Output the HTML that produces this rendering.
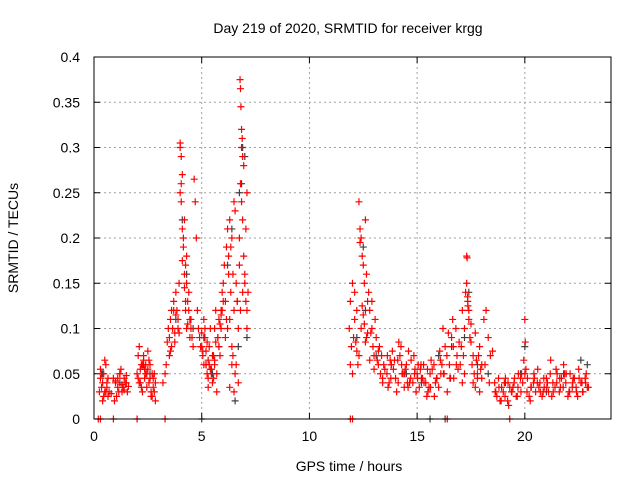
<!DOCTYPE html>
<html><head><meta charset="utf-8"><style>
body{margin:0;background:#fff;}
svg text{font-family:"Liberation Sans",sans-serif;font-size:14px;fill:#000;}
</style></head><body>
<svg id="chart" width="640" height="480" viewBox="0 0 640 480">
<text x="348" y="33" text-anchor="middle">Day 219 of 2020, SRMTID for receiver krgg</text>
<text transform="translate(18,238) rotate(-90)" text-anchor="middle">SRMTID / TECUs</text>
<text x="349" y="471" text-anchor="middle">GPS time / hours</text>
<g id="grid"></g>
<g id="ticks"></g>
<g id="gray"></g>
<g id="red"></g>
<rect x="94" y="57" width="517" height="362" fill="none" stroke="#000" stroke-width="1"/>
</svg>
<script>
const xTicks=[0,5,10,15,20];
const yTicks=[0,0.05,0.1,0.15,0.2,0.25,0.3,0.35,0.4];
const yTickLabels=["0","0.05","0.1","0.15","0.2","0.25","0.3","0.35","0.4"];
const redHours=[0.25,0.3,0.35,0.4,0.45,0.5,0.55,0.6,0.65,0.7,0.3,0.4,0.5,0.6,0.35,0.45,0.55,0.65,0.8,0.9,1.0,1.1,1.2,1.3,1.4,1.5,1.05,1.15,1.25,1.35,1.45,1.55,1.1,1.2,1.3,1.4,0.95,1.0,1.5,1.6,
2.0,2.05,2.1,2.15,2.2,2.25,2.3,2.35,2.4,2.45,2.5,2.55,2.6,2.65,2.7,2.75,2.8,2.85,2.1,2.2,2.3,2.4,2.5,2.6,2.7,2.8,2.15,2.35,2.55,2.75,2.05,2.45,2.65,2.25,2.85,
3.2,3.3,3.35,3.4,3.45,3.5,3.55,3.6,3.65,3.7,3.75,3.8,3.85,3.9,3.95,4.0,4.05,4.1,4.15,4.2,4.25,4.3,4.35,4.4,4.45,4.5,3.5,3.6,3.7,3.8,3.9,4.0,4.1,4.2,4.3,4.4,3.55,3.75,3.95,4.05,4.15,4.25,4.35,4.45,4.0,4.05,4.1,4.2,4.25,4.3,4.5,4.55,4.6,4.65,4.7,4.75,4.8,4.85,4.9,4.95,
5.0,5.05,5.1,5.15,5.2,5.25,5.3,5.35,5.4,5.45,5.5,5.55,5.6,5.65,5.7,5.75,5.8,5.85,5.9,5.95,6.0,5.0,5.1,5.2,5.3,5.4,5.5,5.6,5.7,5.8,5.9,5.05,5.15,5.25,5.35,5.45,5.55,5.65,5.75,5.85,5.95,5.3,5.6,5.9,5.45,
6.0,6.05,6.1,6.15,6.2,6.25,6.3,6.35,6.4,6.45,6.5,6.55,6.6,6.65,6.7,6.75,6.8,6.85,6.9,6.95,7.0,7.05,7.1,7.15,6.1,6.2,6.3,6.4,6.5,6.6,6.7,6.8,6.9,7.0,7.1,6.15,6.25,6.35,6.45,6.55,6.65,6.75,6.85,6.95,7.05,6.78,6.8,6.82,6.85,6.88,6.9,6.5,6.4,6.3,7.1,
11.85,11.9,11.95,12.0,12.05,12.1,12.15,12.2,12.25,12.3,12.35,12.4,12.45,12.5,12.55,12.6,12.65,12.7,12.75,12.8,12.85,12.9,12.95,13.0,13.05,13.1,13.15,13.2,13.25,13.3,13.35,13.4,13.45,13.5,11.9,12.0,12.1,12.2,12.3,12.4,12.5,12.6,12.7,12.8,12.9,13.0,13.2,13.4,12.35,12.45,12.55,12.65,
13.6,13.7,13.8,13.9,14.0,14.1,14.2,14.3,14.4,14.5,14.6,14.7,14.8,14.9,15.0,15.1,15.2,15.3,15.4,15.5,15.6,15.7,15.8,15.9,16.0,16.1,16.2,16.3,16.4,16.5,16.6,16.7,16.8,16.9,13.65,13.85,14.05,14.25,14.45,14.65,14.85,15.05,15.25,15.45,15.65,15.85,16.05,16.25,16.45,16.65,16.85,14.15,14.55,15.15,15.55,16.15,16.55,13.75,14.35,14.95,
13.62,13.78,13.95,14.12,14.28,14.42,14.58,14.72,14.88,15.02,15.18,15.32,15.48,15.62,15.78,15.92,16.08,16.22,16.38,16.52,16.68,16.82,16.95,
17.0,17.05,17.1,17.15,17.2,17.25,17.3,17.35,17.4,17.45,17.5,17.55,17.6,17.65,17.7,17.75,17.8,17.85,17.9,17.95,18.0,18.1,18.2,18.3,18.4,18.5,17.1,17.2,17.3,17.4,17.5,17.6,17.7,17.8,17.9,18.0,18.15,18.35,17.32,17.34,17.36,
18.6,18.7,18.8,18.9,19.0,19.1,19.2,19.3,19.4,19.5,19.6,19.7,19.8,19.9,20.0,20.1,20.2,20.3,20.4,20.5,20.6,20.7,20.8,20.9,21.0,21.1,21.2,21.3,21.4,21.5,21.6,21.7,21.8,21.9,22.0,22.1,22.2,22.3,22.4,22.5,22.6,22.7,22.8,22.9,18.65,18.85,19.05,19.25,19.45,19.65,19.85,20.05,20.25,20.45,20.65,20.85,21.05,21.25,21.45,21.65,21.85,22.05,22.25,22.45,22.65,22.85,20.0,20.02,19.95,
18.62,18.78,18.92,19.08,19.22,19.38,19.52,19.68,19.82,20.12,20.28,20.42,20.58,20.72,20.88,21.02,21.18,21.32,21.48,21.62,21.78,21.92,22.08,22.22,22.38,22.52,22.68,22.82,22.95,
0.2,0.3,0.9,2.0,3.3,11.9,12.0,16.4,19.3];
const redValues=[.03,.045,.05,.04,.025,.03,.06,.035,.045,.03,.055,.02,.065,.04,.035,.05,.03,.025,.028,.045,.04,.035,.05,.03,.045,.04,.025,.03,.055,.035,.04,.03,.045,.05,.038,.032,.02,.042,.048,.036,
.05,.07,.04,.055,.06,.03,.065,.045,.05,.035,.055,.04,.06,.03,.025,.045,.05,.02,.08,.035,.07,.06,.075,.045,.05,.03,.04,.055,.065,.035,.045,.05,.025,.06,.04,
.04,.05,.06,.085,.1,.09,.11,.12,.1,.13,.095,.14,.12,.11,.15,.3,.29,.27,.2,.22,.17,.15,.13,.12,.11,.1,.07,.08,.12,.115,.1,.25,.21,.16,.18,.14,.075,.085,.095,.24,.19,.13,.105,.09,.305,.26,.175,.145,.12,.1,.11,.09,.08,.265,.24,.2,.12,.1,.09,.08,
.08,.07,.06,.09,.075,.05,.065,.08,.1,.055,.07,.045,.06,.085,.05,.09,.11,.07,.1,.12,.13,.095,.11,.06,.035,.055,.04,.065,.03,.08,.12,.075,.1,.085,.06,.05,.07,.12,.09,.105,.14,.045,.1,.115,.055,
.15,.17,.13,.19,.21,.18,.22,.14,.2,.16,.12,.23,.15,.13,.1,.2,.26,.24,.22,.18,.15,.13,.12,.14,.09,.1,.11,.08,.24,.06,.04,.12,.14,.16,.25,.11,.16,.19,.07,.05,.13,.17,.3,.28,.21,.375,.365,.345,.32,.31,.29,.03,.06,.035,.1,
.1,.13,.08,.15,.09,.11,.085,.12,.06,.24,.21,.2,.18,.17,.15,.22,.16,.13,.14,.12,.095,.1,.08,.07,.11,.09,.065,.06,.08,.05,.07,.045,.06,.055,.06,.05,.14,.075,.07,.1,.115,.085,.095,.065,.13,.055,.075,.04,.195,.125,.105,.09,
.05,.04,.06,.055,.045,.065,.07,.05,.035,.06,.075,.045,.04,.055,.05,.035,.045,.06,.04,.03,.05,.055,.025,.045,.035,.05,.1,.08,.03,.06,.09,.045,.1,.055,.035,.075,.03,.08,.055,.04,.07,.06,.045,.025,.065,.04,.075,.05,.095,.11,.07,.085,.04,.055,.035,.06,.045,.065,.05,.03,
.07,.045,.065,.04,.06,.05,.035,.065,.05,.045,.06,.04,.055,.035,.06,.045,.065,.05,.07,.045,.08,.06,.085,
.06,.08,.12,.07,.1,.14,.18,.13,.11,.09,.085,.06,.07,.05,.095,.065,.045,.07,.08,.055,.06,.11,.12,.09,.07,.075,.04,.05,.15,.12,.105,.04,.035,.05,.03,.045,.06,.04,.178,.135,.125,
.04,.025,.035,.02,.03,.045,.02,.035,.03,.04,.025,.05,.045,.04,.05,.03,.025,.035,.04,.03,.055,.04,.025,.035,.045,.03,.065,.04,.035,.05,.03,.045,.06,.04,.025,.05,.035,.045,.03,.055,.04,.03,.045,.035,.03,.02,.04,.015,.035,.025,.05,.055,.02,.045,.035,.03,.04,.025,.055,.035,.05,.03,.045,.025,.04,.05,.11,.085,.065,
.03,.045,.035,.025,.04,.03,.045,.035,.03,.045,.035,.05,.04,.03,.045,.035,.05,.03,.04,.045,.035,.05,.03,.04,.035,.045,.03,.04,.035,
0,0,0,0,0,0,0,0,0];
const grayHours=[0.4,1.2,2.3,2.6,3.8,4.1,4.3,4.6,5.1,5.2,5.5,5.8,6.2,6.4,6.55,6.7,6.75,6.85,6.9,7.0,7.1,12.2,12.5,12.6,13.1,13.8,14.5,15.2,16.0,16.6,17.2,17.4,17.8,18.3,19.1,19.8,20.0,21.0,21.8,22.6,22.9,5.0,15.6,16.3];
const grayValues=[.05,.04,.06,.05,.11,.22,.16,.1,.09,.06,.05,.08,.17,.21,.02,.08,.25,.26,.3,.29,.09,.09,.19,.12,.07,.06,.05,.04,.07,.08,.09,.14,.06,.05,.04,.05,.08,.03,.05,.065,.06,0,0,0];

const X0=94,X1=611,Y0=419,Y1=57;
const xs=h=>X0+(h/24)*(X1-X0);
const ys=v=>Y0-(v/0.4)*(Y0-Y1);
const NS="http://www.w3.org/2000/svg";
function mk(tag,attrs,parent){const e=document.createElementNS(NS,tag);for(const k in attrs)e.setAttribute(k,attrs[k]);parent.appendChild(e);return e;}
const grid=document.getElementById('grid'),ticks=document.getElementById('ticks');
yTicks.forEach((v,i)=>{
  const y=ys(v);
  if(i>0&&i<yTicks.length-1){const g=mk('line',{x1:X0,x2:X1,y1:y,y2:y,stroke:'#a0a0a0','stroke-dasharray':'2,3'},grid);
  
  }
  mk('line',{x1:X0,x2:X0+6,y1:y,y2:y,stroke:'#000'},ticks);
  mk('line',{x1:X1-6,x2:X1,y1:y,y2:y,stroke:'#000'},ticks);
  const t=mk('text',{x:X0-14,y:y+5,'text-anchor':'end'},ticks);t.textContent=yTickLabels[i];
  
  
});
xTicks.forEach(h=>{
  const x=xs(h);
  if(h>0){const g=mk('line',{x1:x,x2:x,y1:Y0,y2:Y1,stroke:'#a0a0a0','stroke-dasharray':'2,3'},grid);
  
  }
  mk('line',{x1:x,x2:x,y1:Y0,y2:Y0-6,stroke:'#000'},ticks);
  mk('line',{x1:x,x2:x,y1:Y1,y2:Y1+6,stroke:'#000'},ticks);
  const t=mk('text',{x:x,y:Y0+22,'text-anchor':'middle'},ticks);t.textContent=String(h);
  
  
});
function plus(g,h,v,col,name){
  const x=xs(h),y=ys(v);
  const p=mk('path',{d:`M${x-3.5},${y}H${x+3.5}M${x},${y-3.5}V${y+3.5}`,stroke:col,'stroke-width':1.2,fill:'none'},g);
  
  
}
const gg=document.getElementById('gray'),rg=document.getElementById('red');
grayHours.forEach((h,i)=>plus(gg,h,grayValues[i],'#404040','gray-point'));
redHours.forEach((h,i)=>plus(rg,h,redValues[i],'#ff0000','red-point'));
</script>
</body></html>
